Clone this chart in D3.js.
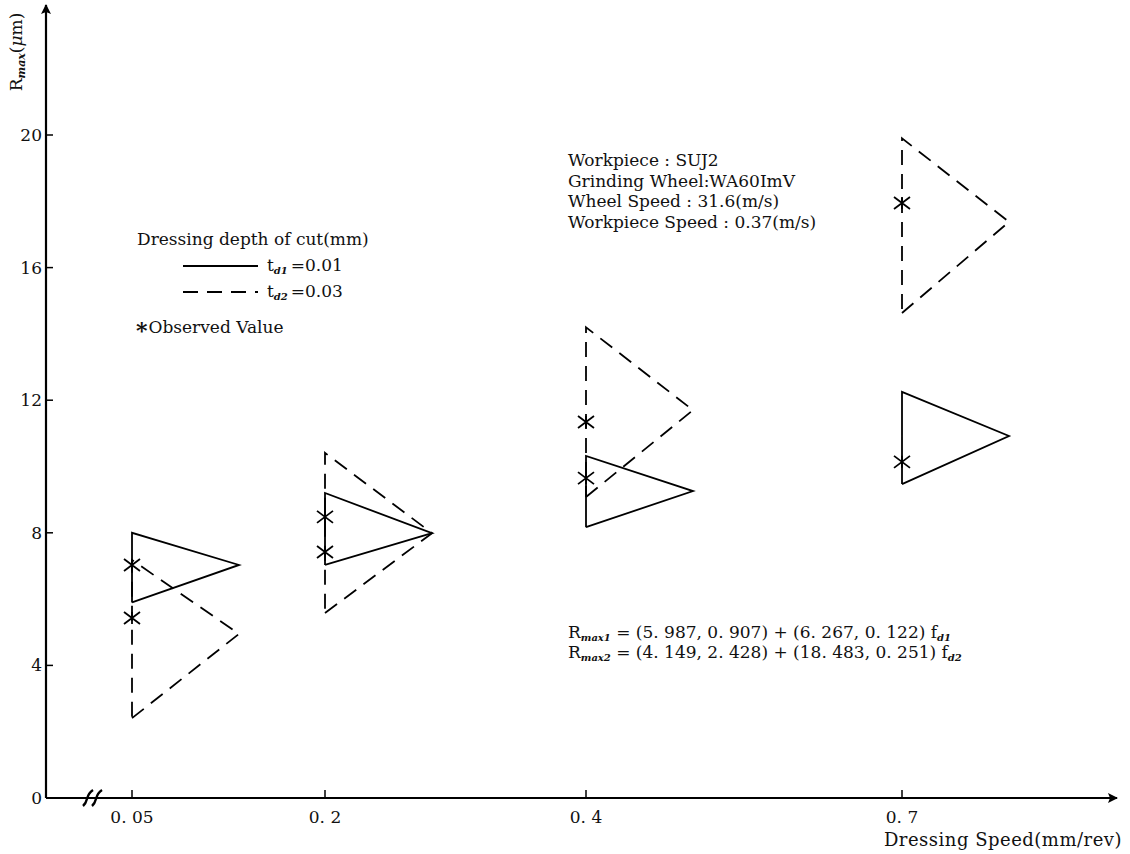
<!DOCTYPE html>
<html>
<head>
<meta charset="utf-8">
<script src="https://cdn.jsdelivr.net/npm/d3@7"></script>
<style>
  body { margin: 0; background: #fff; }
  text { font-family: "DejaVu Serif", "Liberation Serif", serif; fill: #111; }
</style>
</head>
<body>
<script>
// dressing speeds (mm/rev) and tick labels
const speeds = [0.05, 0.2, 0.4, 0.7];
const speedLabels = ["0. 05", "0. 2", "0. 4", "0. 7"];
const yTicks = [0, 4, 8, 12, 16, 20];

// fuzzy Rmax triangles (low, centre, high) in um
const td1Low  = [5.9, 7.03, 8.17, 9.47];
const td1Mid  = [7.03, 7.99, 9.26, 10.92];
const td1High = [8.0, 9.2, 10.32, 12.25];
const td2Low  = [2.41, 5.58, 9.08, 14.63];
const td2Mid  = [4.95, 7.99, 11.7, 17.38];
const td2High = [7.18, 10.41, 14.2, 19.9];

// observed values (asterisks)
const obsSpeed = [0.05, 0.05, 0.2, 0.2, 0.4, 0.4, 0.7, 0.7];
const obsValue = [7.03, 5.43, 8.48, 7.42, 11.34, 9.65, 17.95, 10.14];

const width = 1130, height = 854;
const fs = 17;

const svg = d3.select("body").append("svg")
  .attr("width", width)
  .attr("height", height);

// scales (x axis is broken, so piecewise)
const x = d3.scaleLinear().domain(speeds).range([132, 325, 586, 902]);
const y = d3.scaleLinear().domain([0, 20]).range([798, 135]);
const m = d3.scaleLinear().domain([0, 1]).range([0, 107]); // membership grade -> px
const x0 = 46;

// arrow head
svg.append("defs").append("marker")
  .attr("id", "arrow")
  .attr("viewBox", "0 0 10 10")
  .attr("refX", 9).attr("refY", 5)
  .attr("markerWidth", 24).attr("markerHeight", 10)
  .attr("markerUnits", "userSpaceOnUse")
  .attr("orient", "auto")
  .append("path")
  .attr("d", "M0,0 L10,5 L0,10 L2,5 z")
  .attr("fill", "#000");

// y axis
svg.append("line")
  .attr("x1", x0).attr("y1", y(0))
  .attr("x2", x0).attr("y2", 5)
  .attr("stroke", "#000").attr("stroke-width", 2.2)
  .attr("marker-end", "url(#arrow)");

svg.selectAll(".ytick").data(yTicks.slice(1)).enter().append("line")
  .attr("x1", x0).attr("x2", x0 + 7)
  .attr("y1", d => y(d)).attr("y2", d => y(d))
  .attr("stroke", "#000").attr("stroke-width", 1.5);

svg.selectAll(".ylab").data(yTicks).enter().append("text")
  .attr("x", x0 - 4).attr("y", d => y(d))
  .attr("dy", "0.35em")
  .attr("text-anchor", "end")
  .attr("font-size", fs)
  .text(d => d);

// y label
const ylab = svg.append("text")
  .attr("transform", `translate(22,52) rotate(-90)`)
  .attr("text-anchor", "middle")
  .attr("font-size", fs);
ylab.append("tspan").text("R");
ylab.append("tspan").text("max").attr("font-style", "italic").attr("font-weight", "bold")
  .attr("font-size", 11).attr("dy", 3);
ylab.append("tspan").text("(").attr("dy", -3);
ylab.append("tspan").text("μ").attr("font-style", "italic");
ylab.append("tspan").text("m)");

// x axis
svg.append("line")
  .attr("x1", x0).attr("y1", y(0))
  .attr("x2", 1117).attr("y2", y(0))
  .attr("stroke", "#000").attr("stroke-width", 2)
  .attr("marker-end", "url(#arrow)");

// axis break mark
[0, 9].forEach(off => {
  svg.append("path")
    .attr("d", `M${83 + off},${y(0) + 8} C${89 + off},${y(0) + 3} ${85 + off},${y(0) - 3} ${93 + off},${y(0) - 8}`)
    .attr("fill", "none").attr("stroke", "#000").attr("stroke-width", 2.4);
});

svg.selectAll(".xtick").data(speeds).enter().append("line")
  .attr("x1", d => x(d)).attr("x2", d => x(d))
  .attr("y1", y(0)).attr("y2", y(0) - 8)
  .attr("stroke", "#000").attr("stroke-width", 1.5);

svg.selectAll(".xlab").data(speeds).enter().append("text")
  .attr("x", d => x(d)).attr("y", y(0) + 25)
  .attr("text-anchor", "middle")
  .attr("font-size", fs)
  .text((d, i) => speedLabels[i]);

svg.append("text")
  .attr("x", 1122).attr("y", 846)
  .attr("text-anchor", "end")
  .attr("font-size", 18)
  .attr("letter-spacing", 0.5)
  .text("Dressing Speed(mm/rev)");

// triangles
const tri = d3.line().x(d => x(d.s) + m(d.g)).y(d => y(d.v));

function drawTriangles(low, mid, high, dash) {
  speeds.forEach((s, i) => {
    const pts = [
      { s, v: low[i], g: 0 },
      { s, v: mid[i], g: 1 },
      { s, v: high[i], g: 0 },
      { s, v: low[i], g: 0 }
    ];
    svg.append("path")
      .attr("d", tri(pts))
      .attr("fill", "none")
      .attr("stroke", "#000")
      .attr("stroke-width", 1.8)
      .attr("stroke-dasharray", dash);
  });
}
drawTriangles(td1Low, td1Mid, td1High, null);
drawTriangles(td2Low, td2Mid, td2High, "15,9");

// observed asterisks
obsSpeed.forEach((s, i) => {
  const cx = x(s), cy = y(obsValue[i]);
  svg.append("path")
    .attr("d", `M${cx - 8},${cy - 6} L${cx + 8},${cy + 6} M${cx - 8},${cy + 6} L${cx + 8},${cy - 6} M${cx},${cy - 6} L${cx},${cy + 6}`)
    .attr("stroke", "#000").attr("stroke-width", 1.8).attr("fill", "none");
});

// legend
svg.append("text").attr("x", 137).attr("y", 245).attr("font-size", fs)
  .text("Dressing depth of cut(mm)");

const legendRows = [
  { sub: "d1", val: "=0.01", dash: null, yy: 266 },
  { sub: "d2", val: "=0.03", dash: "15,9", yy: 292 }
];
legendRows.forEach(r => {
  svg.append("line")
    .attr("x1", 183).attr("x2", 258)
    .attr("y1", r.yy).attr("y2", r.yy)
    .attr("stroke", "#000").attr("stroke-width", 1.8)
    .attr("stroke-dasharray", r.dash);
  const t = svg.append("text").attr("x", 267).attr("y", r.yy + 5).attr("font-size", fs);
  t.append("tspan").text("t");
  t.append("tspan").text(r.sub).attr("font-size", 10).attr("font-style", "italic")
    .attr("font-weight", "bold").attr("dy", 3);
  t.append("tspan").text(r.val).attr("dy", -3).attr("dx", 3);
});

const obsT = svg.append("text").attr("x", 136).attr("y", 333).attr("font-size", fs);
obsT.append("tspan").text("*").attr("font-weight", "bold").attr("font-size", 22).attr("dy", 5);
obsT.append("tspan").text("Observed Value").attr("dy", -5).attr("dx", 1);

// conditions
const conditions = [
  "Workpiece : SUJ2",
  "Grinding Wheel:WA60ImV",
  "Wheel Speed : 31.6(m/s)",
  "Workpiece Speed : 0.37(m/s)"
];
svg.selectAll(".cond").data(conditions).enter().append("text")
  .attr("x", 568).attr("y", (d, i) => 166 + i * 20.5)
  .attr("font-size", fs)
  .text(d => d);

// regression equations
const eqs = [
  { sub: "max1", a: "(5. 987, 0. 907) + (6. 267, 0. 122) f", f: "d1" },
  { sub: "max2", a: "(4. 149, 2. 428) + (18. 483, 0. 251) f", f: "d2" }
];
eqs.forEach((e, i) => {
  const t = svg.append("text").attr("x", 568).attr("y", 638 + i * 20).attr("font-size", fs);
  t.append("tspan").text("R");
  t.append("tspan").text(e.sub).attr("font-size", 10).attr("font-style", "italic")
    .attr("font-weight", "bold").attr("dy", 3);
  t.append("tspan").text(" = " + e.a).attr("dy", -3);
  t.append("tspan").text(e.f).attr("font-size", 10).attr("font-style", "italic")
    .attr("font-weight", "bold").attr("dy", 3);
});
</script>
</body>
</html>
